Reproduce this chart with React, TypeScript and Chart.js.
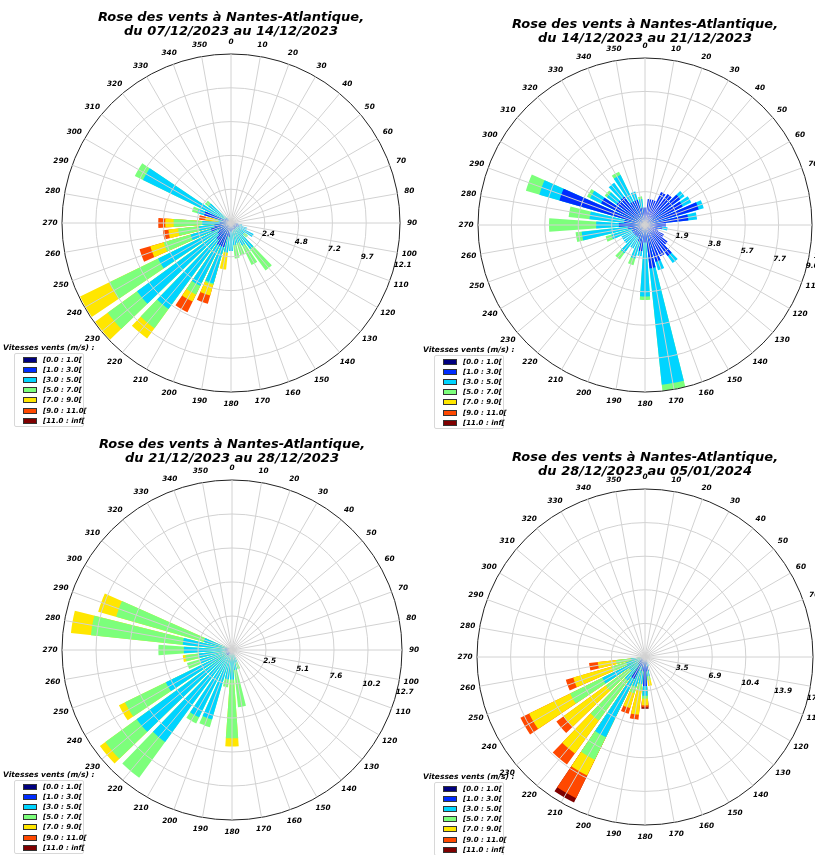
import React, { useEffect, useRef } from 'react';
import { Chart, registerables } from 'chart.js';
Chart.register(...registerables);

const DIRECTION_LABELS = ['0','10','20','30','40','50','60','70','80','90','100','110','120','130','140','150','160','170','180','190','200','210','220','230','240','250','260','270','280','290','300','310','320','330','340','350'];
const SPEED_CLASSES = ['[0.0 : 1.0[', '[1.0 : 3.0[', '[3.0 : 5.0[', '[5.0 : 7.0[', '[7.0 : 9.0[', '[9.0 : 11.0[', '[11.0 : inf['];
const CLASS_COLORS = ['#00007f', '#002cff', '#00d4ff', '#7cff7b', '#ffe600', '#ff4800', '#7f0000'];

// ---- Rose 1 : 07/12/2023 - 14/12/2023 (frequency % per direction, per speed class)
const rose1_0_1 = [0,0,0,0,0,0,0,0,0, 0,0,0,0,0,0,0,0,0, 0,0,.1,.1,.1,.1,.1,.1,.1, .1,.1,.1,.1,0,0,0,0,0];
const rose1_1_3 = [0,0,0,0,0,0,0,0,0, .3,.5,.6,.5,.4,.5,.5,.5,.5, .6,1.0,1.7,1.7,1.4,1.1,.9,1.4,1.1, .7,.5,1.9,.4,.5,.3,0,0,0];
const rose1_3_5 = [0,0,0,0,0,0,0,0,0, 0,.3,.6,1.3,.8,1.8,1.3,1.0,1.1, 1.4,1.1,2.7,3.2,6.1,7.1,4.8,1.5,1.1, 1.25,.3,.5,6.5,1.5,.2,0,0,0];
const rose1_5_7 = [0,0,0,0,0,0,0,0,0, 0,0,0,0,.3,1.9,1.55,.9,.95, 0,.05,.1,.7,1.7,2.6,3.9,2.0,1.5, 2.05,.25,.4,.65,.3,0,0,0,0];
const rose1_7_9 = [0,0,0,0,0,0,0,0,0, 0,0,0,0,0,0,0,0,0, 0,1.2,.8,.55,.9,1.1,2.3,1.0,.7, .6,.7,0,0,0,0,0,0,0];
const rose1_9_11 = [0,0,0,0,0,0,0,0,0, 0,0,0,0,0,0,0,0,0, 0,0,.6,.85,0,0,0,.8,.4, .5,.45,0,0,0,0,0,0,0];
const rose1_11_inf = [0,0,0,0,0,0,0,0,0, 0,0,0,0,0,0,0,0,0, 0,0,0,0,0,0,0,0,0, 0,0,0,0,0,0,0,0,0];
const rose1_max = 12.08;
const rose1_ticks = ['2.4', '4.8', '7.2', '9.7', '12.1'];

// ---- Rose 2 : 14/12/2023 - 21/12/2023
const rose2_0_1 = [.2,.2,.2,.2,.2,.2,.2,.2,.2, .2,.2,.2,.2,.2,.2,.2,.2,.3, .2,.2,.2,.2,.2,.2,.2,.2,.2, .2,.2,.2,.2,.2,.2,.2,.2,.2];
const rose2_1_3 = [.8,1.3,1.3,1.9,2.0,2.3,2.2,3.0,2.3, 1.0,.8,.6,1.0,1.4,2.0,1.8,2.0,2.2, .8,1.3,.8,.6,.6,.6,.6,.6,.8, 1.3,1.0,4.9,2.6,1.8,1.8,1.3,1.3,.8];
const rose2_3_5 = [0,0,0,0,0,.3,.55,.3,.5, 0,.3,0,0,0,.5,0,.5,6.7, 3.1,.3,1.0,.7,1.2,.7,.7,1.2,2.65, 1.3,2.0,1.2,.7,.7,1.0,1.7,.5,.5];
const rose2_5_7 = [0,0,0,0,0,0,0,0,0, 0,0,0,0,0,0,0,0,.35, .2,0,.4,0,.45,0,0,.35,.35, 2.7,1.2,.8,.2,.15,0,.2,0,.15];
const rose2_7_9 = [0,0,0,0,0,0,0,0,0, 0,0,0,0,0,0,0,0,0, 0,0,0,0,0,0,0,0,0, 0,0,0,0,0,0,0,0,0];
const rose2_9_11 = [0,0,0,0,0,0,0,0,0, 0,0,0,0,0,0,0,0,0, 0,0,0,0,0,0,0,0,0, 0,0,0,0,0,0,0,0,0];
const rose2_11_inf = [0,0,0,0,0,0,0,0,0, 0,0,0,0,0,0,0,0,0, 0,0,0,0,0,0,0,0,0, 0,0,0,0,0,0,0,0,0];
const rose2_max = 9.57;
const rose2_ticks = ['1.9', '3.8', '5.7', '7.7', '9.6'];

// ---- Rose 3 : 21/12/2023 - 28/12/2023
const rose3_0_1 = [0,0,0,0,0,0,0,0,0, 0,0,0,0,0,0,0,0,0, 0,0,0,0,.1,.1,.1,.1,.1, .1,.1,.1,0,0,0,0,0,0];
const rose3_1_3 = [0,0,0,0,0,0,0,0,0, 0,0,0,0,0,0,0,.2,.3, .3,.3,.3,.3,.4,.4,.4,.3,.3, .4,.4,.3,.3,0,0,0,0,0];
const rose3_3_5 = [0,0,0,0,0,0,0,0,0, 0,0,0,0,0,0,0,.8,1.2, 1.9,1.9,5.1,5.3,8.0,8.3,5.0,2.1,2.1, 3.1,3.2,1.8,0,0,0,0,0,0];
const rose3_5_7 = [0,0,0,0,0,0,0,0,0, 0,0,0,0,0,0,0,.5,2.8, 4.4,.6,.6,.5,3.3,2.9,3.4,1.0,1.0, 1.9,6.9,6.8,0,0,0,0,0,0];
const rose3_7_9 = [0,0,0,0,0,0,0,0,0, 0,0,0,0,0,0,0,0,0, .6,0,0,0,0,.5,.5,0,.2, 0,1.5,1.4,0,0,0,0,0,0];
const rose3_9_11 = [0,0,0,0,0,0,0,0,0, 0,0,0,0,0,0,0,0,0, 0,0,0,0,0,0,0,0,0, 0,0,0,0,0,0,0,0,0];
const rose3_11_inf = [0,0,0,0,0,0,0,0,0, 0,0,0,0,0,0,0,0,0, 0,0,0,0,0,0,0,0,0, 0,0,0,0,0,0,0,0,0];
const rose3_max = 12.7;
const rose3_ticks = ['2.5', '5.1', '7.6', '10.2', '12.7'];

// ---- Rose 4 : 28/12/2023 - 05/01/2024
const rose4_0_1 = [0,0,0,0,0,0,0,0,0, 0,0,0,0,0,0,0,0,0, .3,.2,.2,.3,.2,.2,.2,.1,.1, .1,0,0,0,0,0,0,0,0];
const rose4_1_3 = [0,0,0,0,0,0,0,0,0, 0,0,0,0,0,0,0,.5,1.5, 2.7,1.3,.8,2.2,.8,.6,.3,.4,.2, .2,0,0,0,0,0,0,0,0];
const rose4_3_5 = [0,0,0,0,0,0,0,0,0, 0,0,0,0,0,0,0,.5,.5, 1.0,1.3,2.2,6.7,2.0,1.2,4.4,1.5,1.2, 0,0,0,0,0,0,0,0,0];
const rose4_5_7 = [0,0,0,0,0,0,0,0,0, 0,0,0,0,0,0,0,0,.4, .3,.7,.7,2.6,5.1,3.0,3.7,1.6,1.5, 0,0,0,0,0,0,0,0,0];
const rose4_7_9 = [0,0,0,0,0,0,0,0,0, 0,0,0,0,0,0,0,0,.6, .7,2.5,1.6,1.8,4.2,5.4,4.7,4.1,1.9, 0,0,0,0,0,0,0,0,0];
const rose4_9_11 = [0,0,0,0,0,0,0,0,0, 0,0,0,0,0,0,0,0,0, .2,.5,.6,2.6,1.4,.9,1.0,.8,.9, 0,0,0,0,0,0,0,0,0];
const rose4_11_inf = [0,0,0,0,0,0,0,0,0, 0,0,0,0,0,0,0,0,0, .15,0,0,.5,0,0,0,0,0, 0,0,0,0,0,0,0,0,0];
const rose4_max = 17.33;
const rose4_ticks = ['3.5', '6.9', '10.4', '13.9', '17.3'];

const FONT = '"DejaVu Sans", "Liberation Sans", sans-serif';
const BAR_ANGLE = 8;
const GAP_ANGLE = 2;

type RoseSpec = {
  title1: string; title2: string;
  classes: number[][]; max: number; ticks: string[];
  cx: number; cy: number; R: number; titleTop: number; legendX: number; legendY: number;
};

const ROSES: RoseSpec[] = [
  { title1: 'Rose des vents à Nantes-Atlantique,', title2: 'du 07/12/2023 au 14/12/2023',
    classes: [rose1_0_1, rose1_1_3, rose1_3_5, rose1_5_7, rose1_7_9, rose1_9_11, rose1_11_inf],
    max: rose1_max, ticks: rose1_ticks, cx: 231, cy: 223, R: 169, titleTop: 10, legendX: 3, legendY: 342 },
  { title1: 'Rose des vents à Nantes-Atlantique,', title2: 'du 14/12/2023 au 21/12/2023',
    classes: [rose2_0_1, rose2_1_3, rose2_3_5, rose2_5_7, rose2_7_9, rose2_9_11, rose2_11_inf],
    max: rose2_max, ticks: rose2_ticks, cx: 645, cy: 225, R: 167, titleTop: 17, legendX: 423, legendY: 344 },
  { title1: 'Rose des vents à Nantes-Atlantique,', title2: 'du 21/12/2023 au 28/12/2023',
    classes: [rose3_0_1, rose3_1_3, rose3_3_5, rose3_5_7, rose3_7_9, rose3_9_11, rose3_11_inf],
    max: rose3_max, ticks: rose3_ticks, cx: 232, cy: 650, R: 170, titleTop: 437, legendX: 3, legendY: 769 },
  { title1: 'Rose des vents à Nantes-Atlantique,', title2: 'du 28/12/2023 au 05/01/2024',
    classes: [rose4_0_1, rose4_1_3, rose4_3_5, rose4_5_7, rose4_7_9, rose4_9_11, rose4_11_inf],
    max: rose4_max, ticks: rose4_ticks, cx: 645, cy: 657, R: 168, titleTop: 450, legendX: 423, legendY: 771 },
];

// one polar element list: half bar 0, then (gap, bar k) for k = 1..35, gap, other half of bar 0
function expandValues(values: number[]): number[] {
  const out: number[] = [values[0]];
  for (let k = 1; k < values.length; k++) { out.push(0); out.push(values[k]); }
  out.push(0); out.push(values[0]);
  return out;
}
function expandAngles(n: number): number[] {
  const out: number[] = [BAR_ANGLE / 2];
  for (let k = 1; k < n; k++) { out.push(GAP_ANGLE); out.push(BAR_ANGLE); }
  out.push(GAP_ANGLE); out.push(BAR_ANGLE / 2);
  return out;
}

const roseText = {
  id: 'roseText',
  afterDraw(chart: any, _args: any, opts: any) {
    const s = chart.scales.r;
    const ctx = chart.ctx;
    ctx.save();
    ctx.fillStyle = '#000';
    ctx.font = `italic bold 7.3px ${FONT}`;
    ctx.textAlign = 'center';
    ctx.textBaseline = 'middle';
    DIRECTION_LABELS.forEach((lab, i) => {
      const p = s.getPointPosition(i, s.drawingArea + 12);
      ctx.fillText(lab, p.x, p.y);
    });
    ctx.textAlign = 'left';
    ctx.textBaseline = 'top';
    const a = (opts.labelAngle - 90) * Math.PI / 180;
    (opts.tickLabels as string[]).forEach((lab, i) => {
      const d = s.getDistanceFromCenterForValue(opts.max * (i + 1) / 5);
      ctx.fillText(lab, s.xCenter + Math.cos(a) * d - 2, s.yCenter + Math.sin(a) * d);
    });
    ctx.restore();
  },
};

const HALF = 210;

function Rose({ spec }: { spec: RoseSpec }) {
  const ref = useRef<HTMLCanvasElement>(null);
  useEffect(() => {
    const angles = expandAngles(DIRECTION_LABELS.length);
    const datasets = spec.classes.map((cls, k) => {
      const cum = DIRECTION_LABELS.map((_, d) => {
        let s = 0;
        for (let j = 0; j <= k; j++) s += spec.classes[j][d];
        return cls[d] > 0 ? s : 0;
      });
      return {
        label: SPEED_CLASSES[k],
        data: expandValues(cum),
        backgroundColor: CLASS_COLORS[k],
        borderWidth: 0,
        angle: (c: any) => angles[c.dataIndex],
      };
    });
    const tickValues = [0, 1, 2, 3, 4, 5].map((i) => (spec.max * i) / 5);
    const pad = HALF - spec.R;
    const chart = new Chart(ref.current as HTMLCanvasElement, {
      type: 'polarArea',
      data: { labels: DIRECTION_LABELS, datasets: datasets as any },
      options: {
        responsive: false,
        animation: false,
        layout: { padding: pad },
        plugins: {
          legend: { display: false },
          tooltip: { enabled: false },
          roseText: { tickLabels: spec.ticks, max: spec.max, labelAngle: 103 },
        } as any,
        scales: {
          r: {
            min: 0,
            max: spec.max,
            startAngle: 0,
            afterBuildTicks: (sc: any) => { sc.ticks = tickValues.map((v) => ({ value: v })); },
            ticks: { display: false },
            pointLabels: { display: false },
            grid: {
              circular: true,
              z: 1,
              lineWidth: 1,
              color: (c: any) => (c.index === 5 ? '#222222' : '#d2d2d2'),
            },
            angleLines: { display: true, color: '#d2d2d2', lineWidth: 1 },
          } as any,
        },
      },
      plugins: [roseText],
    });
    return () => chart.destroy();
  }, [spec]);

  const lx = spec.legendX;
  const ly = spec.legendY;
  return (
    <>
      <canvas ref={ref} width={HALF * 2} height={HALF * 2}
        style={{ position: 'absolute', left: spec.cx - HALF, top: spec.cy - HALF, width: HALF * 2, height: HALF * 2 }} />
      <div style={{ position: 'absolute', left: spec.cx - 200, top: spec.titleTop, width: 400, textAlign: 'center',
        font: `italic bold 13px/14px ${FONT}`, color: '#000' }}>
        <div>{spec.title1}</div>
        <div>{spec.title2}</div>
      </div>
      <div style={{ position: 'absolute', left: lx, top: ly + 1, font: `italic bold 7.5px ${FONT}`, whiteSpace: 'nowrap' }}>
        Vitesses vents (m/s) :
      </div>
      <div style={{ position: 'absolute', left: lx + 11, top: ly + 11, width: 70, height: 74, border: '1px solid #d8d8d8',
        borderRadius: 2, background: '#fff', boxSizing: 'border-box' }}>
        {SPEED_CLASSES.map((lab, k) => (
          <div key={k} style={{ position: 'absolute', left: 0, top: 2 + k * 10.1, height: 8, width: 68 }}>
            <div style={{ position: 'absolute', left: 8, top: 1, width: 14, height: 6, background: CLASS_COLORS[k],
              border: '0.6px solid #333', boxSizing: 'border-box' }} />
            <div style={{ position: 'absolute', left: 28, top: 0, font: `italic bold 7px/8px ${FONT}`, whiteSpace: 'nowrap' }}>{lab}</div>
          </div>
        ))}
      </div>
    </>
  );
}

export default function App() {
  return (
    <div style={{ position: 'fixed', left: 0, top: 0, width: 815, height: 855, overflow: 'hidden', background: '#fff' }}>
      {ROSES.map((r, i) => <Rose key={i} spec={r} />)}
    </div>
  );
}
